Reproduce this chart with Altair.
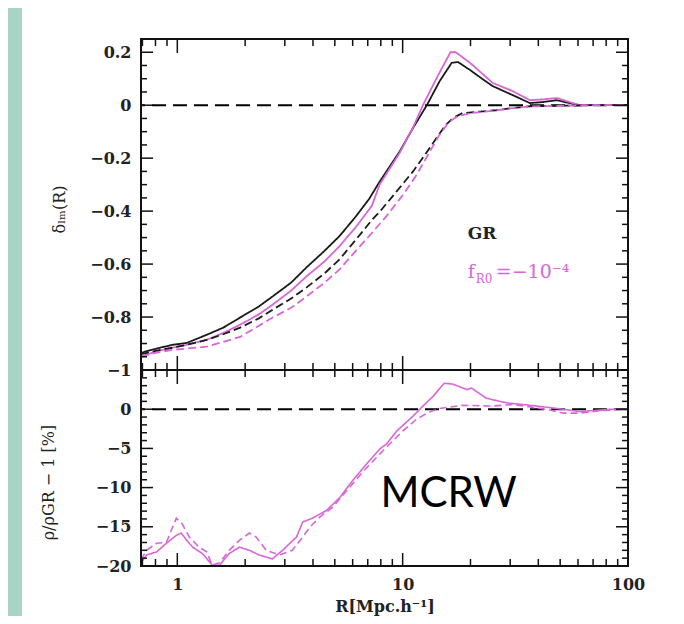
import altair as alt
import pandas as pd
import numpy as np

# ---------------- data ----------------
# upper panel: delta(R)
gr_solid_R = [0.69, 0.8, 0.95, 1.1, 1.35, 1.6, 1.9, 2.3, 2.65, 3.2, 3.75, 4.5, 5.25, 6.2, 7.1, 7.9,
              9.7, 11.1, 12.8, 14.6, 16.5, 17.6, 19.9, 22.5, 25.1, 30.8, 36.7, 42, 48.3, 55, 61, 75, 100]
gr_solid_v = [-0.935, -0.92, -0.905, -0.898, -0.867, -0.84, -0.802, -0.76, -0.722, -0.67, -0.612, -0.55,
              -0.494, -0.42, -0.354, -0.289, -0.175, -0.087, 0.0, 0.091, 0.16, 0.163, 0.133, 0.1, 0.072,
              0.038, 0.008, 0.012, 0.019, 0.008, 0.0, 0.0, 0.0]

fr_solid_R = [0.69, 0.8, 0.95, 1.1, 1.35, 1.6, 1.9, 2.3, 2.65, 3.2, 3.75, 4.5, 5.25, 6.2, 7.3, 7.9,
              9.7, 11.1, 12.3, 14.3, 16.3, 17.2, 19.9, 22.5, 25.1, 30.8, 36.7, 42, 48.3, 55, 61, 75, 100]
fr_solid_v = [-0.95, -0.93, -0.916, -0.905, -0.886, -0.86, -0.829, -0.79, -0.753, -0.70, -0.646, -0.59,
              -0.532, -0.46, -0.38, -0.30, -0.18, -0.085, 0.0, 0.11, 0.2, 0.2, 0.16, 0.12, 0.084,
              0.053, 0.019, 0.022, 0.027, 0.012, 0.0, 0.0, 0.0]

gr_dash_R = [0.69, 0.8, 0.95, 1.1, 1.35, 1.6, 1.9, 2.3, 2.65, 3.2, 3.75, 4.5, 5.25, 6.2, 7.36, 7.9,
             9.0, 11.1, 12.5, 14.1, 15.5, 16.7, 18.4, 22, 26, 30, 36.7, 50, 70, 100]
gr_dash_v = [-0.94, -0.928, -0.916, -0.905, -0.886, -0.865, -0.84, -0.805, -0.772, -0.73, -0.688, -0.635,
             -0.582, -0.508, -0.43, -0.403, -0.345, -0.251, -0.19, -0.125, -0.075, -0.049, -0.03,
             -0.024, -0.019, -0.012, -0.004, -0.002, 0.0, 0.0]

fr_dash_R = [0.69, 0.8, 0.95, 1.35, 1.9, 2.65, 3.2, 3.75, 4.5, 5.25, 6.2, 7.36, 8.5, 10, 11.5, 13,
             14.5, 16, 17.5, 20, 26, 30, 36.7, 50, 70, 100]
fr_dash_v = [-0.95, -0.935, -0.924, -0.912, -0.875, -0.802, -0.765, -0.722, -0.67, -0.62, -0.55, -0.479,
             -0.418, -0.34, -0.265, -0.185, -0.115, -0.065, -0.042, -0.03, -0.02, -0.012, -0.005,
             -0.002, 0.0, 0.0]

# lower panel: rho/rho_GR - 1 [%]
low_solid_R = [0.69, 0.73, 0.81, 0.894, 0.99, 1.04, 1.1, 1.17, 1.29, 1.43, 1.54, 1.7, 1.89, 2.09, 2.31,
               2.64, 2.93, 3.38, 3.6, 3.98, 4.6, 5.25, 6.0, 7.1, 7.9, 8.5, 9.4, 11.1, 12.3, 13.6, 15.3,
               16.7, 19.3, 20.2, 23.5, 29, 36.7, 51.5, 61, 85, 100]
low_solid_v = [-19.6, -18.6, -18.2, -17.1, -16.1, -15.8, -16.7, -17.6, -18.4, -19.9, -19.9, -18.4, -17.6,
               -18.0, -18.6, -19.1, -18.0, -16.3, -14.4, -13.9, -12.9, -11.3, -9.1, -6.6, -5.1, -4.4,
               -2.8, -0.9, 0.4, 1.6, 3.3, 3.2, 2.5, 2.7, 1.4, 0.8, 0.5, 0.0, -0.3, 0.0, 0.0]

low_dash_R = [0.69, 0.73, 0.81, 0.894, 0.99, 1.05, 1.13, 1.25, 1.35, 1.43, 1.54, 1.7, 1.89, 2.09, 2.24,
              2.48, 2.84, 3.24, 3.6, 3.86, 4.27, 4.89, 5.8, 6.9, 8.5, 10, 11.5, 13, 14.6, 18.4, 25,
              30.8, 36.7, 45, 51.5, 61, 75, 100]
low_dash_v = [-19.2, -18.0, -17.1, -17.0, -13.9, -14.6, -16.3, -17.6, -18.2, -19.9, -19.6, -18.0, -16.7,
              -15.8, -16.3, -18.0, -18.6, -18.0, -16.3, -15.1, -13.8, -12.5, -10.0, -7.5, -4.8, -2.8,
              -1.3, -0.4, 0.1, 0.5, 0.4, 0.6, 0.3, -0.1, -0.5, -0.5, -0.2, 0.0]

series_up = ["GR", "fR", "GR dashed", "fR dashed"]
series_low = ["solid", "dashed"]

x_major = [1, 10, 100]
x_minor = [0.7, 0.8, 0.9, 2, 3, 4, 5, 6, 7, 8, 9, 20, 30, 40, 50, 60, 70, 80, 90]
up_y_labels = [0.2, 0, -0.2, -0.4, -0.6, -0.8, -1]
low_y_labels = [0, -5, -10, -15, -20]

# ---------------- build tables ----------------
def mk(R, v, s):
    return pd.DataFrame({"R": R, "v": v, "s": s})

up_df = pd.concat([mk(gr_solid_R, gr_solid_v, series_up[0]), mk(fr_solid_R, fr_solid_v, series_up[1]),
                   mk(gr_dash_R, gr_dash_v, series_up[2]), mk(fr_dash_R, fr_dash_v, series_up[3])])
low_df = pd.concat([mk(low_solid_R, low_solid_v, series_low[0]), mk(low_dash_R, low_dash_v, series_low[1])])

MAG = "#d866d8"
TEAL = "#a8d4c6"
W, H1, H2 = 487, 331, 196
serif = "DejaVu Serif"

xs = alt.Scale(type="log", domain=[0.69, 100], nice=False)
ys_up = alt.Scale(domain=[-1, 0.25], nice=False, zero=False)
ys_low = alt.Scale(domain=[-20, 5], nice=False, zero=False)

ax_up_y = alt.Axis(values=up_y_labels, format=".1~f", title="δₗₘ(R)",
                   titleX=-82, titleY=170, titleAngle=270, titleAlign="center", titleBaseline="middle")
ax_low_y = alt.Axis(values=low_y_labels, format="d", title="ρ/ρGR − 1 [%]",
                    titleX=-93, titleY=112, titleAngle=270, titleAlign="center", titleBaseline="middle")
ax_low_x = alt.Axis(values=x_major, format="d", title="R[Mpc.h⁻¹]", titleY=40,
                    titleBaseline="middle", titleFontWeight="bold", labelFlush=False)

up_ticks = np.round(np.arange(-1, 0.2501, 0.05), 2)
up_major = pd.DataFrame({"v": [t for t in up_ticks if abs(t * 5 - round(t * 5)) < 1e-6]})
up_minor = pd.DataFrame({"v": [t for t in up_ticks if abs(t * 5 - round(t * 5)) >= 1e-6]})
low_ticks = np.arange(-20, 6, 1)
low_major = pd.DataFrame({"v": [int(t) for t in low_ticks if t % 5 == 0]})
low_minor = pd.DataFrame({"v": [int(t) for t in low_ticks if t % 5 != 0]})
xmaj = pd.DataFrame({"R": x_major})
xmin = pd.DataFrame({"R": x_minor})

one = pd.DataFrame({"a": [0]})


def X(axis):
    return alt.X("R:Q", scale=xs, axis=axis)


def yticks(df, ys, ax, length):
    left = alt.Chart(df).mark_rule(color="#111", strokeWidth=1.5).encode(
        y=alt.Y("v:Q", scale=ys, axis=ax), x=alt.value(0), x2=alt.value(length))
    right = alt.Chart(df).mark_rule(color="#111", strokeWidth=1.5).encode(
        y=alt.Y("v:Q", scale=ys, axis=ax), x=alt.value(W - length), x2=alt.value(W))
    return [left, right]


def xticks(df, xax, y0, y1):
    return alt.Chart(df).mark_rule(color="#111", strokeWidth=1.5).encode(
        x=X(xax), y=alt.value(y0), y2=alt.value(y1))


def frame(h):
    return alt.Chart(one).mark_rect(filled=False, stroke="#111", strokeWidth=2).encode(
        x=alt.value(0), x2=alt.value(W), y=alt.value(0), y2=alt.value(h))


# ---------------- upper panel ----------------
# invisible spacer fixing the overall page frame, and the teal strip at the left edge
spacer = alt.Chart(one).mark_rect(opacity=0).encode(
    x=alt.value(-133), x2=alt.value(534), y=alt.value(-31), y2=alt.value(577))
strip = alt.Chart(one).mark_rect(color=TEAL).encode(
    x=alt.value(-133), x2=alt.value(-119), y=alt.value(-31), y2=alt.value(577))

zero_up = alt.Chart(pd.DataFrame({"v": [0]})).mark_rule(
    color="black", strokeWidth=2, strokeDash=[14, 7]).encode(y=alt.Y("v:Q", scale=ys_up, axis=ax_up_y))

lines_up = alt.Chart(up_df).mark_line(strokeWidth=1.8, clip=True).encode(
    x=X(None),
    y=alt.Y("v:Q", scale=ys_up, axis=ax_up_y),
    color=alt.Color("s:N", scale=alt.Scale(domain=series_up, range=["#1a1a1a", MAG, "#1a1a1a", MAG]),
                    legend=None),
    strokeDash=alt.StrokeDash("s:N", scale=alt.Scale(domain=series_up,
                                                     range=[[1, 0], [1, 0], [8, 4], [8, 4]]),
                              legend=None),
)

gr_txt = alt.Chart(pd.DataFrame({"R": [19.45], "v": [-0.506], "t": ["GR"]})).mark_text(
    align="left", baseline="alphabetic", font=serif, fontSize=17, fontWeight="bold", color="#222").encode(
    x=X(None), y=alt.Y("v:Q", scale=ys_up, axis=ax_up_y), text="t:N")
leg_pos = pd.DataFrame({"R": [19.45], "v": [-0.652], "a": ["f"], "b": ["R0"], "c": ["=−10⁻⁴"]})
f_txt = alt.Chart(leg_pos).mark_text(align="left", baseline="alphabetic", font=serif, fontSize=19,
                                     color=MAG).encode(
    x=X(None), y=alt.Y("v:Q", scale=ys_up, axis=ax_up_y), text="a:N")
sub_txt = alt.Chart(leg_pos).mark_text(align="left", baseline="alphabetic", font=serif, fontSize=12,
                                       color=MAG, dx=8, dy=5).encode(
    x=X(None), y=alt.Y("v:Q", scale=ys_up, axis=ax_up_y), text="b:N")
eq_txt = alt.Chart(leg_pos).mark_text(align="left", baseline="alphabetic", font=serif, fontSize=19,
                                      color=MAG, dx=28).encode(
    x=X(None), y=alt.Y("v:Q", scale=ys_up, axis=ax_up_y), text="c:N")

upper = alt.layer(
    spacer, strip, zero_up, lines_up,
    *yticks(up_major, ys_up, ax_up_y, 12), *yticks(up_minor, ys_up, ax_up_y, 6),
    xticks(xmaj, None, 0, 14), xticks(xmin, None, 0, 7),
    xticks(xmaj, None, H1 - 14, H1), xticks(xmin, None, H1 - 7, H1),
    frame(H1),
    gr_txt, f_txt, sub_txt, eq_txt,
).properties(width=W, height=H1)

# ---------------- lower panel ----------------
zero_low = alt.Chart(pd.DataFrame({"v": [0]})).mark_rule(
    color="black", strokeWidth=2, strokeDash=[14, 7]).encode(y=alt.Y("v:Q", scale=ys_low, axis=ax_low_y))

lines_low = alt.Chart(low_df).mark_line(strokeWidth=1.6, clip=True, color=MAG).encode(
    x=X(ax_low_x),
    y=alt.Y("v:Q", scale=ys_low, axis=ax_low_y),
    strokeDash=alt.StrokeDash("s:N", scale=alt.Scale(domain=series_low, range=[[1, 0], [7, 4]]),
                              legend=None),
)

mcrw = alt.Chart(pd.DataFrame({"R": [16.0], "v": [-12.53], "t": ["MCRW"]})).mark_text(
    align="center", baseline="alphabetic", font="Lato", fontSize=42, color="black").encode(
    x=X(ax_low_x), y=alt.Y("v:Q", scale=ys_low, axis=ax_low_y), text="t:N")

lower = alt.layer(
    zero_low, lines_low,
    *yticks(low_major, ys_low, ax_low_y, 12), *yticks(low_minor, ys_low, ax_low_y, 6),
    xticks(xmaj, ax_low_x, 0, 14), xticks(xmin, ax_low_x, 0, 7),
    xticks(xmaj, ax_low_x, H2 - 13, H2), xticks(xmin, ax_low_x, H2 - 7, H2),
    frame(H2),
    mcrw,
).properties(width=W, height=H2)

chart = alt.vconcat(upper, lower, spacing=0, bounds="flush").resolve_scale(
    strokeDash="independent", color="independent"
).properties(
    background="white",
    padding={"left": 0, "top": 0, "right": 0, "bottom": 0},
).configure_view(
    strokeWidth=0
).configure_axis(
    ticks=False, domain=False, grid=False,
    labelFont=serif, labelFontSize=16, labelFontWeight="bold", labelColor="#222",
    labelPadding=10, labelOverlap=False,
    titleFont=serif, titleFontSize=16, titleFontWeight="normal", titleColor="#222",
)

chart.save("out.html", embed_options={"renderer": "svg", "actions": False})
